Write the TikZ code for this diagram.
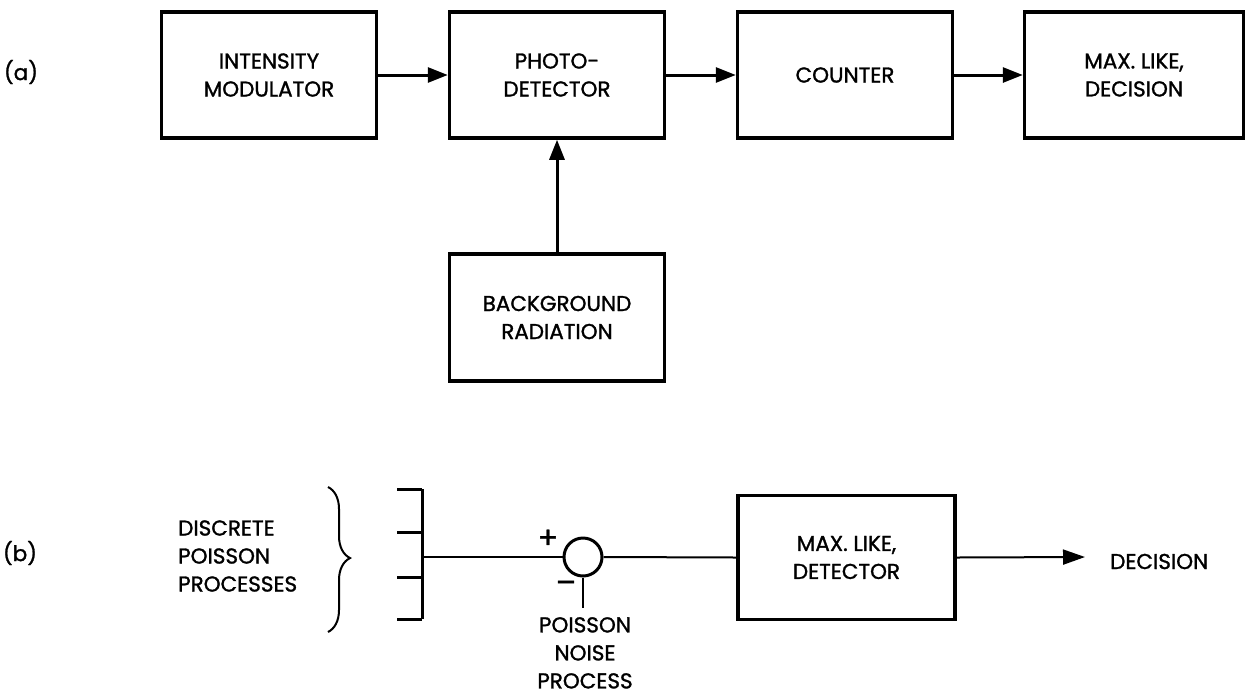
\documentclass[tikz,border=0pt]{standalone}
\usepackage{fontspec}
\setmainfont{Poppins}[FakeBold=1.3]
\usetikzlibrary{arrows.meta,decorations.pathreplacing}
\begin{document}
\begin{tikzpicture}[x=1pt,y=-1pt,
  txt/.style={font=\fontsize{21.5}{28}\selectfont, align=center, inner sep=0pt},
  blk/.style={txt, draw, line width=3.5pt, minimum width=215pt, minimum height=126pt},
  conn/.style={line width=3pt, -{Triangle[length=20pt,width=15pt]}},
  wire/.style={line width=2pt},
  comb/.style={line width=3pt},
  sumj/.style={draw, circle, line width=3pt, minimum size=38pt, inner sep=0pt}]
\useasboundingbox[fill=white] (0,0) rectangle (1246,694);

% ---------- (a) ----------
\node[txt] (la) at (21,72) {(a)};
\node[blk] (b1) at (269,75) {INTENSITY\\MODULATOR};
\node[blk] (b2) at (557,75) {PHOTO-\\DETECTOR};
\node[blk] (b3) at (845,75) {COUNTER};
\node[blk, minimum width=219pt] (b4) at (1134,75) {MAX. LIKE,\\DECISION};
\node[blk, minimum height=127pt] (bg) at (557,317.5) {BACKGROUND\\RADIATION};

\draw[conn] (b1) -- (b2);
\draw[conn] (b2) -- (b3);
\draw[conn] (b3) -- (b4);
\draw[conn] (bg) -- (b2);

% ---------- (b) ----------
\node[txt] (lb) at (20,553) {(b)};
\node[txt, align=left, anchor=west] (dpp) at (178,556) {DISCRETE\\POISSON\\PROCESSES};
\draw[line width=2pt, decorate, decoration={brace, amplitude=22pt, aspect=0.49}]
  (328,487) -- (328,632);

% comb of processes
\coordinate (ct) at (422,489);
\coordinate (cb) at (422,619);
\coordinate (cm) at (422,557);
\coordinate (t1) at (397,489);
\coordinate (t2) at (397,532);
\coordinate (t3) at (397,577);
\coordinate (t4) at (397,619);
\draw[comb] (ct) -- (cb);
\draw[comb] (t1) -- (ct);
\draw[comb] (t2) -- (t2 -| ct);
\draw[comb] (t3) -- (t3 -| ct);
\draw[comb] (t4) -- (cb);

\node[sumj] (sum) at (583,557) {};
\node[txt, font=\fontsize{30}{30}\selectfont] (plus) at (548,539) {+};
\node[txt, font=\fontsize{30}{30}\selectfont] (minus) at (566,587) {–};
\draw[wire] (cm) -- (sum.west);

\node[blk, minimum width=217pt, minimum height=124pt] (det) at (846.5,557.5) {MAX. LIKE,\\DETECTOR};
\draw[wire] (sum.east) -- (det.west);

\coordinate (ntop) at (583,608);
\draw[wire] (sum.south) -- (ntop);
\node[txt, anchor=north] (noise) at (585,617) {POISSON\\NOISE\\PROCESS};

\coordinate (dtip) at (1085,557);
\draw[wire, -{Triangle[length=22pt,width=15pt]}] (det.east) -- (dtip);
\node[txt, anchor=base west] (dec) at (1110,569) {DECISION};
\end{tikzpicture}
\end{document}
